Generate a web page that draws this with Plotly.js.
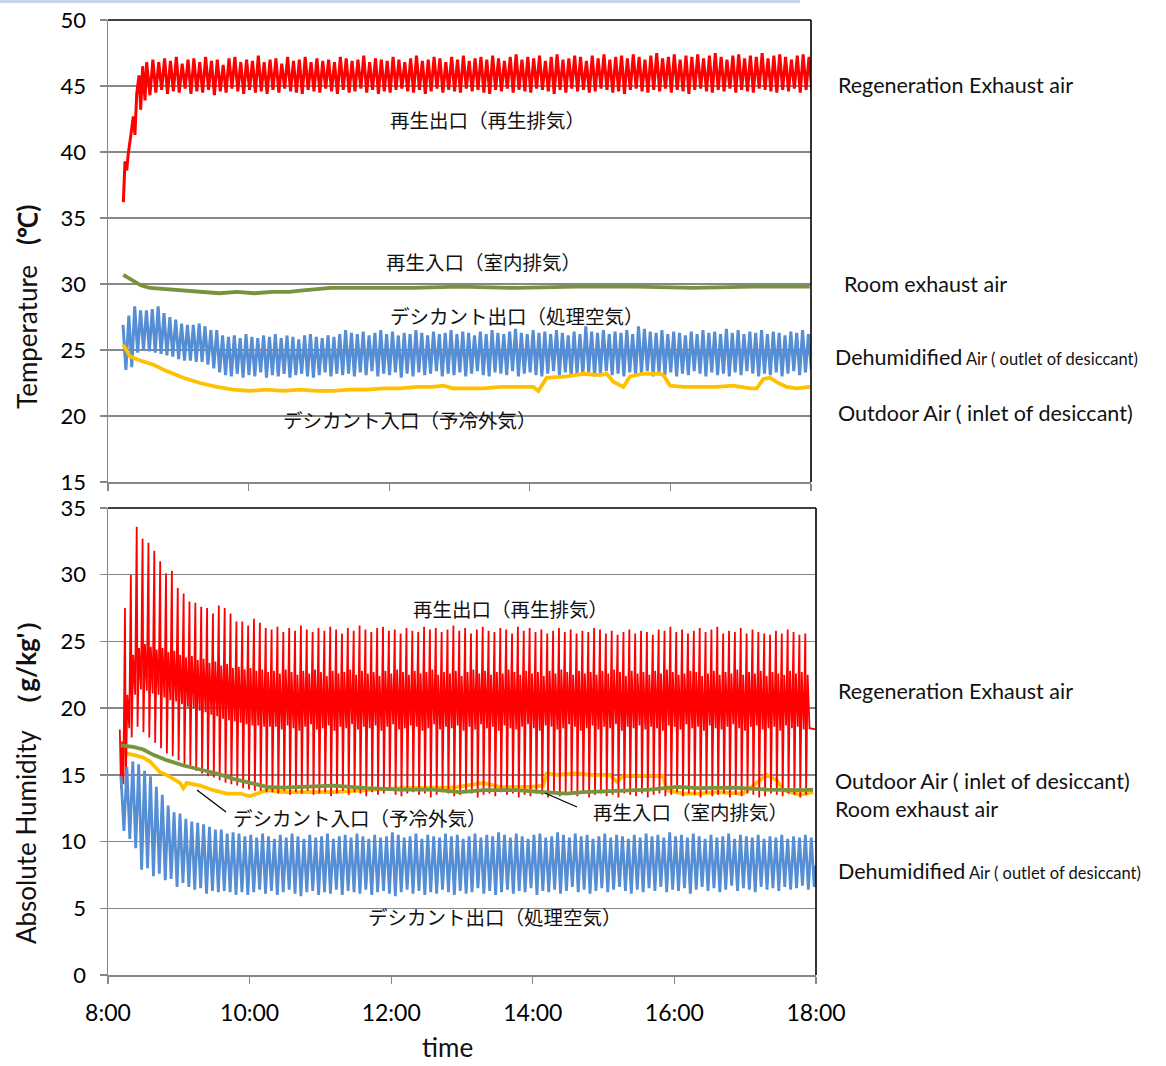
<!DOCTYPE html>
<html>
<head>
<meta charset="utf-8">
<script src="https://cdn.plot.ly/plotly-3.0.1.min.js"></script>
<style>
html,body{margin:0;padding:0;background:#fff;}
#chart{width:1166px;height:1066px;}
</style>
</head>
<body>
<div id="chart"></div>
<script>
// ---------------- DATA (time in minutes after 8:00) ----------------
const tickMinutes = [0, 120, 240, 360, 480, 600];
const tickLabels = ['8:00', '10:00', '12:00', '14:00', '16:00', '18:00'];

// ---- Temperature panel ----
// Regeneration exhaust air (再生出口): start-up ramp, then periodic cycles (5 min)
const regenTempRampT = [13.1, 14.5, 16.0, 17.3, 19.4, 21.6, 23.0, 24.5, 26.5, 27.9, 29.6, 31.6, 33.0, 35.8];
const regenTempRampV = [36.2, 39.3, 38.6, 39.9, 41.2, 42.7, 41.3, 44.4, 45.8, 43.2, 46.5, 43.9, 46.8, 44.3];
const regenTempCycleStart = 38.3;
const regenTempPeaks = [47.0,46.8,47.1,46.9,47.2,46.7,47.0,47.1,46.8,47.2,46.9,47.0,46.6,47.1,47.2,46.8,47.0,46.9,47.3,46.8,
  47.0,47.1,46.7,47.2,46.9,47.0,47.2,46.8,47.1,46.9,47.0,46.8,47.2,47.1,46.9,47.0,47.3,46.8,47.1,47.0,
  46.9,47.2,47.0,46.8,47.1,47.3,46.9,47.0,47.2,47.1,46.8,47.2,47.0,47.3,46.9,47.1,47.2,47.0,47.3,47.1,
  46.9,47.2,47.4,47.0,47.2,47.1,47.3,46.9,47.2,47.4,47.0,47.1,47.3,47.2,46.9,47.3,47.1,47.4,47.0,47.2,
  47.3,47.1,47.4,47.2,47.0,47.3,47.5,47.1,47.2,47.4,47.0,47.3,47.2,47.4,47.1,47.3,47.5,47.2,47.0,47.3,
  47.4,47.1,47.3,47.2,47.5,47.1,47.3,47.4,47.2,47.0,47.3,47.4,47.2];
const regenTempTroughs = [44.5,44.7,44.4,44.6,44.5,44.8,44.4,44.6,44.5,44.7,44.3,44.6,44.5,44.8,44.6,44.4,44.7,44.5,44.6,44.4,
  44.7,44.5,44.8,44.6,44.5,44.4,44.7,44.6,44.5,44.8,44.6,44.4,44.7,44.5,44.6,44.8,44.5,44.7,44.4,44.6,
  44.5,44.7,44.8,44.6,44.5,44.7,44.4,44.6,44.8,44.5,44.7,44.6,44.5,44.8,44.6,44.7,44.5,44.4,44.7,44.6,
  44.8,44.5,44.7,44.6,44.5,44.8,44.7,44.6,44.4,44.7,44.5,44.8,44.6,44.7,44.5,44.6,44.8,44.7,44.5,44.6,
  44.4,44.7,44.8,44.6,44.5,44.7,44.6,44.8,44.5,44.7,44.6,44.4,44.7,44.8,44.6,44.5,44.7,44.6,44.8,44.5,
  44.7,44.6,44.5,44.8,44.7,44.6,44.5,44.7,44.6,44.8,44.5,44.7,44.6];

// Room exhaust air (再生入口)
const roomTempT = [13.1, 17, 21.3, 28, 35.8, 50, 65, 78.5, 95, 110, 125, 140, 155, 164, 175, 190, 220, 260, 300, 350, 400, 450, 500, 550, 599];
const roomTempV = [30.7, 30.5, 30.2, 29.9, 29.7, 29.6, 29.5, 29.4, 29.3, 29.4, 29.3, 29.4, 29.4, 29.5, 29.6, 29.7, 29.7, 29.7, 29.8, 29.7, 29.8, 29.8, 29.7, 29.8, 29.8];

// Dehumidified air (デシカント出口): periodic cycles (5 min)
const dehumTempCycleStart = 12.8;
const dehumTempPeaks = [26.9,27.6,28.3,28.0,28.0,28.1,28.3,27.8,27.5,27.3,27.0,26.9,26.9,27.0,26.8,26.5,26.5,26.1,
  26.0,26.1,25.9,26.2,26.0,25.9,26.1,26.0,26.2,25.9,26.1,26.0,25.8,26.1,26.2,26.0,25.9,26.1,26.0,26.2,
  26.5,26.3,26.2,26.4,26.1,26.3,26.5,26.2,26.4,26.1,26.3,26.2,26.5,26.3,26.1,26.4,26.2,26.3,26.5,26.2,
  26.4,26.3,26.1,26.4,26.2,26.5,26.3,26.2,26.4,26.6,26.3,26.2,26.5,26.3,26.4,26.2,26.5,26.3,26.1,26.4,
  26.2,26.8,26.4,26.3,26.5,26.2,26.4,26.3,26.5,26.2,26.8,26.6,26.4,26.3,26.5,26.2,26.4,26.3,26.1,26.4,
  26.2,26.5,26.3,26.4,26.2,26.6,26.3,26.5,26.2,26.4,26.3,26.5,26.2,26.4,26.3,26.1,26.4,26.3,26.5,26.2];
const dehumTempTroughs = [23.5,23.7,24.8,25.0,24.9,24.8,24.7,24.6,24.5,24.3,24.2,24.2,24.1,24.1,23.9,23.6,23.3,23.1,
  23.0,23.2,22.9,23.1,23.0,23.3,22.9,23.1,23.0,23.2,22.9,23.1,23.2,23.0,22.9,23.1,23.3,23.0,23.2,23.1,
  23.2,23.0,23.3,23.1,23.4,23.0,23.2,23.1,23.3,22.9,23.2,23.0,23.3,23.1,23.2,23.4,23.0,23.2,23.1,23.3,
  23.0,23.2,23.4,23.1,23.0,23.3,23.2,23.1,23.4,23.0,23.2,23.3,23.1,23.0,23.2,23.4,23.1,23.3,23.0,23.2,
  23.1,23.3,23.0,23.2,23.4,23.1,23.2,23.0,23.3,23.1,23.2,23.4,23.0,23.2,23.1,23.3,23.0,23.2,23.1,23.4,
  23.2,23.0,23.3,23.1,23.2,23.0,23.3,23.1,23.4,23.2,23.0,23.2,23.1,23.3,23.0,23.2,23.4,23.1,23.3,23.5];

// Outdoor air (デシカント入口)
const outdoorTempT = [13.1, 18.8, 27.3, 38.4, 50.1, 64.3, 78.5, 92.8, 106.9, 121.2, 135.4, 149.4, 163.9, 178.1, 192, 206.5, 220.8, 235,
  249.2, 263.5, 277.4, 286.2, 294.5, 306.2, 320.3, 334.6, 348.8, 363, 367.3, 374.4, 377.2, 391.5, 405.7, 419.9, 425.6, 431.3,
  439.8, 445.5, 456.9, 471.1, 473.9, 479.7, 491, 505.3, 519.5, 533.7, 547.9, 553.7, 559.3, 565, 572.1, 579.3, 587.8, 599.2];
const outdoorTempV = [25.4, 24.5, 24.2, 23.9, 23.4, 22.9, 22.5, 22.2, 22.0, 21.9, 22.0, 21.9, 22.0, 21.9, 21.9, 22.0, 22.0, 22.1,
  22.1, 22.2, 22.2, 22.3, 22.1, 22.1, 22.1, 22.2, 22.2, 22.2, 21.9, 22.9, 22.9, 23.0, 23.2, 23.1, 23.2, 22.6,
  22.2, 23.0, 23.2, 23.2, 23.1, 22.3, 22.2, 22.2, 22.2, 22.3, 22.1, 22.1, 22.8, 22.9, 22.5, 22.2, 22.1, 22.2];

// ---- Absolute humidity panel ----
// Regeneration exhaust air: start points, then cycles of [peak, dip, upper mid, lower mid]
const regenHumStartT = [10, 11, 12, 13];
const regenHumStartV = [18.4, 14.0, 17.5, 14.3];
const regenHumCycleStart = 14.4;
const regenHumPeaks = [27.5,30.0,33.6,32.7,32.4,31.8,31.0,30.1,30.3,29.0,28.6,28.0,27.9,27.6,27.5,27.1,27.7,27.5,27.1,26.5,26.5,26.2,26.7,26.4,26.0,
  25.9,26.1,25.7,26.0,25.8,26.2,25.9,25.7,26.0,25.8,26.1,25.9,25.6,26.0,25.8,26.2,25.9,25.7,26.0,26.1,25.8,25.9,25.6,26.0,25.8,
  25.7,26.1,25.9,26.0,25.7,25.9,26.2,25.8,26.0,25.6,25.9,26.1,25.8,25.7,26.0,25.9,25.6,26.1,25.8,26.0,25.7,25.9,25.6,25.8,26.0,
  25.7,25.9,25.6,25.8,25.7,26.0,25.9,25.6,25.8,25.5,25.7,25.9,25.6,25.8,25.7,25.5,25.9,25.8,26.1,25.7,25.9,25.6,25.8,26.0,25.7,
  25.9,26.1,25.6,25.8,25.7,26.0,25.6,25.9,25.7,25.6,25.5,25.8,25.6,25.9,25.7,25.5,25.6];
const regenHumDips = [14.2,17.8,18.6,18.2,17.8,17.4,17.0,16.6,16.4,16.1,15.8,15.6,15.3,15.1,14.9,14.8,14.6,14.4,14.3,14.2,14.0,13.9,13.8,13.8,13.7,
  13.7,13.6,13.8,13.5,13.7,13.6,13.8,13.5,13.6,13.7,13.4,13.6,13.8,13.5,13.7,13.6,13.4,13.7,13.5,13.6,13.8,13.5,13.4,13.6,13.7,
  13.5,13.6,13.3,13.5,13.7,13.6,13.4,13.5,13.7,13.6,13.3,13.5,13.6,13.4,13.7,13.5,13.6,13.3,13.5,13.4,13.6,13.5,13.3,13.6,13.4,
  13.5,13.7,13.4,13.6,13.3,13.5,13.6,13.4,13.5,13.3,13.6,13.5,13.4,13.6,13.3,13.5,13.6,13.4,13.5,13.7,13.4,13.6,13.5,13.3,13.6,
  13.4,13.5,13.6,13.3,13.5,13.4,13.6,13.5,13.3,13.4,13.6,13.5,13.4,13.6,13.5,13.3,13.5];
const regenHumUpperMid = [21.0,24.0,24.5,24.8,24.6,24.4,24.5,24.2,24.3,24.0,23.8,23.9,23.6,23.7,23.4,23.5,23.2,23.3,23.0,23.1,22.9,23.0,22.8,22.9,22.7,
  22.8,22.6,22.9,22.7,22.5,22.8,22.6,22.9,22.7,22.4,22.8,22.6,22.7,22.9,22.5,22.8,22.6,22.7,22.4,22.8,22.6,22.9,22.7,22.5,22.8,
  22.6,22.7,22.9,22.5,22.7,22.6,22.8,22.4,22.7,22.9,22.6,22.8,22.5,22.7,22.6,22.9,22.7,22.5,22.8,22.6,22.7,22.4,22.8,22.6,22.9,
  22.7,22.5,22.8,22.6,22.7,22.5,22.8,22.6,22.9,22.7,22.4,22.8,22.6,22.7,22.5,22.8,22.6,22.9,22.7,22.5,22.6,22.8,22.7,22.4,22.6,
  22.8,22.5,22.7,22.6,22.9,22.5,22.7,22.6,22.8,22.4,22.7,22.6,22.5,22.8,22.6,22.7,22.5];
const regenHumLowerMid = [18.5,21.0,21.4,21.3,21.1,21.0,20.8,20.6,20.5,20.3,20.1,20.0,19.8,19.7,19.5,19.4,19.2,19.1,19.0,18.9,18.8,18.7,18.7,18.6,18.6,
  18.6,18.4,18.7,18.5,18.3,18.6,18.8,18.4,18.5,18.7,18.3,18.6,18.5,18.8,18.4,18.6,18.5,18.7,18.3,18.6,18.8,18.4,18.5,18.7,18.6,
  18.3,18.5,18.8,18.4,18.6,18.5,18.7,18.3,18.6,18.4,18.8,18.5,18.6,18.3,18.7,18.5,18.4,18.6,18.8,18.5,18.3,18.7,18.6,18.4,18.5,
  18.8,18.6,18.3,18.5,18.7,18.4,18.6,18.5,18.8,18.3,18.6,18.5,18.7,18.4,18.6,18.5,18.3,18.7,18.6,18.4,18.8,18.5,18.6,18.3,18.7,
  18.5,18.4,18.6,18.8,18.5,18.3,18.6,18.7,18.4,18.5,18.6,18.3,18.7,18.5,18.6,18.4,18.5];
const regenHumEndT = [599.5];
const regenHumEndV = [18.4];

// Room exhaust air
const roomHumT = [10.8, 21.4, 29.9, 38.4, 49.7, 63.8, 78, 92.1, 106.2, 120.3, 134.5, 148.6, 162.7, 190.9, 219.2, 247.5, 275.7, 298.3,
  318, 346.4, 368.9, 388.7, 402.8, 431.1, 459.3, 482, 501.7, 529.9, 558.2, 586.4, 597.5];
const roomHumV = [17.2, 17.1, 16.9, 16.5, 16.1, 15.7, 15.4, 15.1, 14.7, 14.4, 14.1, 14.05, 14.1, 14.2, 14.0, 13.9, 13.9, 13.7,
  13.85, 13.85, 13.7, 13.6, 13.7, 13.8, 13.9, 14.1, 14.0, 14.05, 13.9, 13.85, 13.9];

// Outdoor air
const outdoorHumT = [10.8, 15.8, 21.4, 29.9, 35.6, 39.8, 44.1, 49.7, 55.3, 61, 63.8, 66.7, 78, 89.2, 100.6, 111.9, 120.3, 126, 134.5,
  148.6, 162.7, 190.9, 219.2, 247.5, 275.7, 292.6, 318, 332.2, 357.6, 368.9, 371.8, 380.3, 397.2, 408.5, 425.4, 431.1, 436.7,
  448.1, 470.6, 473.5, 487.6, 501.7, 515.8, 538.4, 552.5, 558.2, 566.7, 572.3, 586.4, 597.5];
const outdoorHumV = [16.9, 16.6, 16.5, 16.3, 16.0, 15.6, 15.2, 15.0, 14.7, 14.4, 14.0, 14.4, 14.2, 13.85, 13.6, 13.6, 13.4, 13.6, 13.85,
  13.7, 13.7, 13.7, 13.85, 14.0, 14.05, 14.05, 14.4, 14.1, 14.1, 14.2, 15.1, 15.0, 15.1, 15.0, 15.0, 14.5, 14.9,
  14.9, 14.9, 13.85, 13.6, 13.6, 13.7, 13.6, 14.6, 15.0, 14.6, 13.85, 13.5, 13.7];

// Dehumidified air: periodic cycles (5 min)
const dehumHumCycleStart = 11;
const dehumHumPeaks = [14.9,15.6,16.0,15.8,15.3,14.9,14.1,13.5,12.7,12.2,12.1,11.7,11.5,11.4,11.3,11.1,10.9,10.9,10.6,10.7,10.6,10.4,
  10.5,10.3,10.6,10.4,10.2,10.5,10.3,10.6,10.4,10.2,10.5,10.3,10.4,10.6,10.2,10.4,10.5,10.3,10.6,10.4,10.2,10.5,10.3,10.4,
  10.7,10.5,10.3,10.4,10.6,10.2,10.5,10.4,10.3,10.6,10.4,10.5,10.2,10.4,10.6,10.3,10.5,10.4,10.7,10.5,10.3,10.6,10.4,10.2,
  10.5,10.6,10.3,10.4,10.7,10.5,10.3,10.6,10.4,10.5,10.2,10.4,10.6,10.3,10.5,10.4,10.2,10.5,10.3,10.6,10.4,10.5,10.3,10.7,
  10.4,10.5,10.3,10.6,10.4,10.2,10.5,10.3,10.4,10.6,10.2,10.5,10.4,10.3,10.5,10.2,10.4,10.3,10.5,10.2,10.4,10.3,10.5,10.3];
const dehumHumTroughs = [10.8,10.2,9.5,7.9,8.0,7.4,7.6,7.1,7.2,6.6,6.9,6.6,6.4,6.5,6.1,6.3,6.2,6.3,6.2,6.0,6.2,6.0,
  6.2,6.4,6.1,6.3,6.0,6.2,6.4,6.1,5.9,6.2,6.3,6.0,6.2,6.1,6.4,6.0,6.3,6.2,6.1,6.4,6.0,6.2,6.3,6.1,
  5.9,6.2,6.4,6.1,6.3,6.0,6.2,6.1,6.4,6.2,6.0,6.3,6.1,6.2,6.5,6.1,6.3,6.0,6.2,6.4,6.1,6.3,6.2,6.5,
  6.0,6.3,6.2,6.4,6.1,6.3,6.6,6.2,6.4,6.1,6.3,6.5,6.2,6.4,6.6,6.3,6.1,6.4,6.2,6.5,6.3,6.6,6.2,6.4,
  6.3,6.5,6.1,6.4,6.6,6.3,6.5,6.2,6.4,6.7,6.3,6.5,6.4,6.2,6.6,6.4,6.5,6.3,6.6,6.4,6.5,6.7,6.4,6.6];
const dehumHumEndT = [599.5];
const dehumHumEndV = [8.2];

// ---------------- BUILD TRACES ----------------
const PERIOD = 5;
function zigzag(start, peaks, troughs) {
  const x = [], y = [];
  const n = Math.min(peaks.length, troughs.length);
  for (let k = 0; k < n; k++) {
    const t = start + PERIOD * k;
    x.push(t); y.push(peaks[k]);
    x.push(t + PERIOD / 2); y.push(troughs[k]);
  }
  return {x, y};
}
function spikes(start, peaks, dips, upper, lower) {
  const x = [], y = [];
  const n = Math.min(peaks.length, dips.length, upper.length, lower.length);
  for (let k = 0; k < n; k++) {
    const t = start + 4.97 * k;
    x.push(t); y.push(peaks[k]);
    x.push(t + 0.7); y.push(dips[k]);
    x.push(t + 2.0); y.push(upper[k]);
    x.push(t + 3.6); y.push(lower[k]);
  }
  return {x, y};
}

const RED = '#FF0000', BLUE = '#558ED5', GREEN = '#77933C', YELLOW = '#FFC000';

const rtz = zigzag(regenTempCycleStart, regenTempPeaks, regenTempTroughs);
const regenTemp = {
  x: regenTempRampT.concat(rtz.x), y: regenTempRampV.concat(rtz.y),
  xaxis: 'x', yaxis: 'y', type: 'scatter', mode: 'lines', line: {color: RED, width: 3}, hoverinfo: 'skip'
};
const roomTemp = {x: roomTempT, y: roomTempV, xaxis: 'x', yaxis: 'y', type: 'scatter', mode: 'lines',
  line: {color: GREEN, width: 3.8}, hoverinfo: 'skip'};
const dtz = zigzag(dehumTempCycleStart, dehumTempPeaks, dehumTempTroughs);
const dehumTemp = {x: dtz.x, y: dtz.y, xaxis: 'x', yaxis: 'y', type: 'scatter', mode: 'lines',
  line: {color: BLUE, width: 3}, hoverinfo: 'skip'};
const outdoorTemp = {x: outdoorTempT, y: outdoorTempV, xaxis: 'x', yaxis: 'y', type: 'scatter', mode: 'lines',
  line: {color: YELLOW, width: 3.8}, hoverinfo: 'skip'};

const rhs = spikes(regenHumCycleStart, regenHumPeaks, regenHumDips, regenHumUpperMid, regenHumLowerMid);
const regenHum = {
  x: regenHumStartT.concat(rhs.x, regenHumEndT), y: regenHumStartV.concat(rhs.y, regenHumEndV),
  xaxis: 'x2', yaxis: 'y2', type: 'scatter', mode: 'lines', line: {color: RED, width: 1.8}, hoverinfo: 'skip'
};
const roomHum = {x: roomHumT, y: roomHumV, xaxis: 'x2', yaxis: 'y2', type: 'scatter', mode: 'lines',
  line: {color: GREEN, width: 3.8}, hoverinfo: 'skip'};
const outdoorHum = {x: outdoorHumT, y: outdoorHumV, xaxis: 'x2', yaxis: 'y2', type: 'scatter', mode: 'lines',
  line: {color: YELLOW, width: 3.8}, hoverinfo: 'skip'};
const dhz = zigzag(dehumHumCycleStart, dehumHumPeaks, dehumHumTroughs);
const dehumHum = {x: dhz.x.concat(dehumHumEndT), y: dhz.y.concat(dehumHumEndV), xaxis: 'x2', yaxis: 'y2',
  type: 'scatter', mode: 'lines', line: {color: BLUE, width: 2.8}, hoverinfo: 'skip'};

// ---------------- LAYOUT ----------------
const W = 1166, H = 1066;
const px = v => v / W;
const py = v => 1 - v / H;

const EN = 'Lato, "Open Sans", sans-serif';
const JP = '"Noto Sans CJK JP", sans-serif';
const AXIS_GRAY = '#878787';

function yAxis(domain, range, anchor) {
  return {
    domain, range, anchor, dtick: 5, tick0: 0, showgrid: true, gridcolor: AXIS_GRAY, gridwidth: 1.3,
    zeroline: false, showline: true, linecolor: AXIS_GRAY, linewidth: 1.5,
    ticks: 'outside', ticklen: 7, tickcolor: AXIS_GRAY, tickwidth: 1.3, ticklabelstandoff: 9,
    tickfont: {family: EN, size: 22, color: '#000'}, fixedrange: true
  };
}
function xAxis(domain, anchor, labels) {
  return {
    domain, anchor, range: [0, 600], tickvals: tickMinutes, ticktext: tickLabels,
    showticklabels: labels, showgrid: false, zeroline: false, showline: true,
    linecolor: AXIS_GRAY, linewidth: 1.5, ticks: 'outside', ticklen: 7, tickcolor: AXIS_GRAY, tickwidth: 1.3,
    ticklabelstandoff: 10, tickfont: {family: EN, size: 23, color: '#000'}, fixedrange: true
  };
}

function jp(text, x, y) {
  return {text, x: px(x), y: py(y), xref: 'paper', yref: 'paper', showarrow: false,
    xanchor: 'center', yanchor: 'middle', font: {family: JP, size: 19.5, color: '#111'}};
}
function en(text, x, y) {
  return {text, x: px(x), y: py(y), xref: 'paper', yref: 'paper', showarrow: false,
    xanchor: 'left', yanchor: 'middle', font: {family: EN, size: 21.5, color: '#111'}};
}
const dehumLabel = 'Dehumidified<span style="font-size:16.5px"> Air ( outlet of desiccant)</span>';

const annotations = [
  // temperature panel
  jp('再生出口（再生排気）', 487, 119),
  jp('再生入口（室内排気）', 483, 261),
  jp('デシカント出口（処理空気）', 517, 316),
  jp('デシカント入口（予冷外気）', 410, 419),
  en('Regeneration Exhaust air', 836, 85),
  en('Room exhaust air', 842, 284),
  en(dehumLabel, 833, 357),
  en('Outdoor Air ( inlet of desiccant)', 836, 413),
  // humidity panel
  jp('再生出口（再生排気）', 510, 608),
  jp('デシカント入口（予冷外気）', 360, 817),
  jp('再生入口（室内排気）', 690, 811),
  jp('デシカント出口（処理空気）', 495, 916),
  en('Regeneration Exhaust air', 836, 691),
  en('Outdoor Air ( inlet of desiccant)', 833, 781),
  en('Room exhaust air', 833, 809),
  en(dehumLabel, 836, 871),
  // axis titles
  {text: 'Temperature\u00a0\u00a0\u00a0<b>(℃)</b>', x: px(27), y: py(307), xref: 'paper', yref: 'paper',
    showarrow: false, textangle: -90, xanchor: 'center', yanchor: 'middle', font: {family: EN, size: 26, color: '#111'}},
  {text: 'Absolute Humidity\u00a0\u00a0<b>（g/kg\'）</b>', x: px(26), y: py(776), xref: 'paper', yref: 'paper',
    showarrow: false, textangle: -90, xanchor: 'center', yanchor: 'middle', font: {family: EN, size: 26, color: '#111'}},
  {text: 'time', x: px(447), y: py(1047), xref: 'paper', yref: 'paper', showarrow: false,
    xanchor: 'center', yanchor: 'middle', font: {family: EN, size: 26, color: '#111'}}
];

const shapes = [
  // black top and right frame of each panel
  {type: 'line', xref: 'x domain', yref: 'y domain', x0: 0, x1: 1, y0: 1, y1: 1, line: {color: '#000', width: 1.6}},
  {type: 'line', xref: 'x domain', yref: 'y domain', x0: 1, x1: 1, y0: 0, y1: 1, line: {color: '#000', width: 1.6}},
  {type: 'line', xref: 'x2 domain', yref: 'y2 domain', x0: 0, x1: 1, y0: 1, y1: 1, line: {color: '#000', width: 1.6}},
  {type: 'line', xref: 'x2 domain', yref: 'y2 domain', x0: 1, x1: 1, y0: 0, y1: 1, line: {color: '#000', width: 1.6}},
  // leader lines
  {type: 'line', xref: 'paper', yref: 'paper', x0: px(197), y0: py(790), x1: px(226), y1: py(812), line: {color: '#000', width: 1.3}},
  {type: 'line', xref: 'paper', yref: 'paper', x0: px(545), y0: py(793), x1: px(577), y1: py(807), line: {color: '#000', width: 1.3}},
  // faint decorative strip at the top edge
  {type: 'rect', xref: 'paper', yref: 'paper', x0: 0, x1: px(800), y0: py(3), y1: 1, line: {width: 0}, fillcolor: 'rgba(150,180,220,0.55)'}
];

const layout = {
  width: W, height: H, margin: {l: 0, r: 0, t: 0, b: 0}, showlegend: false,
  paper_bgcolor: '#fff', plot_bgcolor: 'rgba(0,0,0,0)',
  xaxis: xAxis([px(108), px(811)], 'y', false),
  yaxis: yAxis([py(482), py(20)], [15, 50], 'x'),
  xaxis2: xAxis([px(108), px(816)], 'y2', true),
  yaxis2: yAxis([py(975), py(508)], [0, 35], 'x2'),
  annotations, shapes
};

Plotly.newPlot('chart',
  [regenTemp, roomTemp, dehumTemp, outdoorTemp, outdoorHum, regenHum, roomHum, dehumHum],
  layout, {staticPlot: true, displayModeBar: false});
</script>
</body>
</html>
